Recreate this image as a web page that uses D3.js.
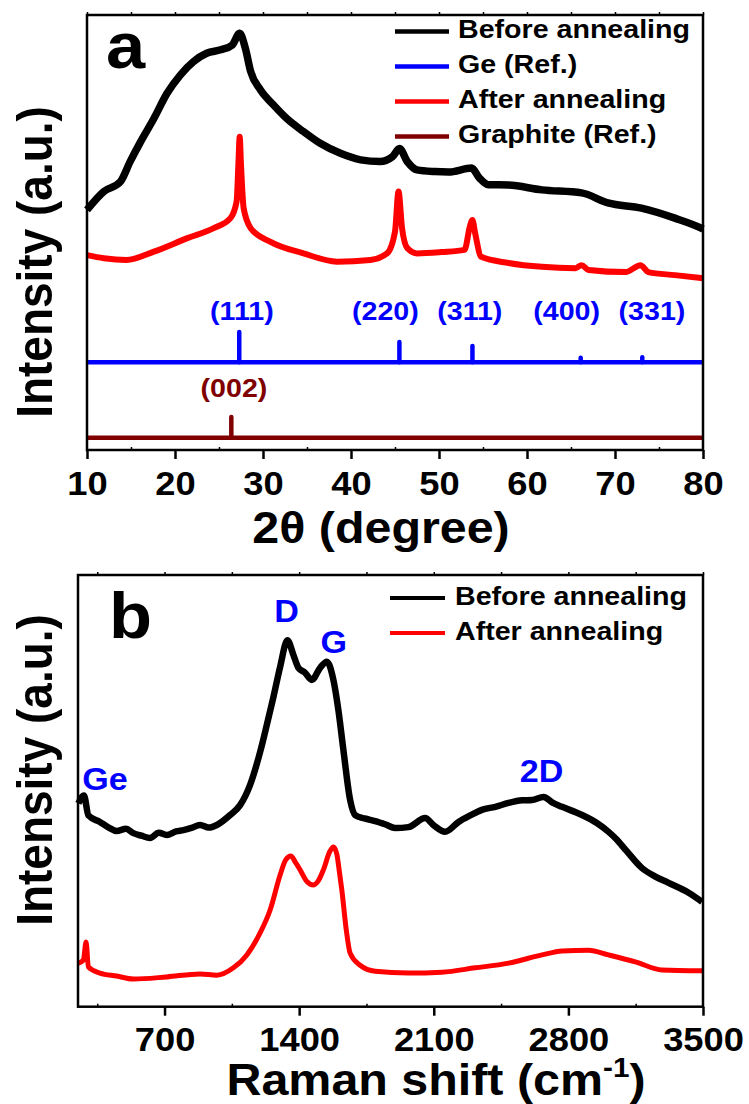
<!DOCTYPE html>
<html>
<head>
<meta charset="utf-8">
<script src="https://cdn.jsdelivr.net/npm/d3@7/dist/d3.min.js"></script>
<style>
  html, body { margin: 0; padding: 0; background: #fff; }
  svg { display: block; }
  text { font-family: "Liberation Sans", Arial, Helvetica, sans-serif; font-weight: bold; }
</style>
</head>
<body>
<svg id="chart" width="749" height="1104"></svg>
<script>
// ---------- XRD data (2θ in degrees, intensity in a.u.) ----------
const xrdBefore = [
  [10.0,55.2],[11.9,59.4],[13.8,61.7],[14.9,66.3],[16.1,70.9],[17.6,76.2],[19.1,82.0],
  [20.6,86.2],[22.1,89.3],[23.6,91.2],[25.2,92.0],[26.5,93.1],[27.35,95.8],[28.0,92.3],
  [28.6,87.0],[29.7,82.8],[31.2,79.3],[32.7,76.2],[34.6,73.2],[36.5,70.5],[38.8,68.2],
  [41.1,66.7],[43.3,66.3],[44.7,67.4],[45.5,69.3],[46.4,66.3],[47.5,64.4],[49.5,64.0],
  [51.1,63.9],[53.7,64.8],[54.6,62.5],[55.6,61.0],[57.9,60.9],[61.7,59.8],[66.2,59.1],
  [69.2,56.8],[73.0,55.6],[76.8,53.3],[79.8,51.0],[80.0,50.8]
];
const xrdAfter = [
  [10.0,44.8],[11.9,44.1],[14.5,43.7],[17.6,45.6],[21.4,48.7],[24.4,51.0],[26.3,53.3],
  [27.0,57.1],[27.2,65.5],[27.35,72.0],[27.5,65.5],[27.8,55.6],[28.6,51.0],[30.8,47.9],
  [34.6,45.2],[38.4,43.3],[42.2,43.7],[44.1,45.2],[45.0,50.2],[45.4,59.4],[45.8,51.0],
  [46.4,46.4],[47.5,45.2],[50.3,45.5],[52.9,46.0],[53.5,51.3],[53.8,52.9],[54.1,49.9],
  [54.8,44.4],[57.9,43.0],[61.7,42.1],[65.5,41.8],[66.2,42.5],[67.0,41.4],[71.2,40.9],
  [72.9,42.5],[73.8,40.9],[76.8,40.2],[80.0,39.5]
];
// Reference patterns: baseline level and stick heights
const geRefBase = 20.2;
const geRefPeaks = [27.3, 45.5, 53.8, 66.1, 73.1];
const geRefHeights = [6.9, 4.6, 3.7, 1.0, 1.1];
const geRefLabels = ["(111)", "(220)", "(311)", "(400)", "(331)"];
const geRefLabelAngles = [27.6, 43.9, 53.5, 64.5, 74.2];
const graphiteRefBase = 2.8;
const graphiteRefPeaks = [26.4];
const graphiteRefHeights = [4.8];
const graphiteRefLabels = ["(002)"];
const graphiteRefLabelAngles = [26.7];

const xrdTicks = [10, 20, 30, 40, 50, 60, 70, 80];
const xrdMinorTicks = [15, 25, 35, 45, 55, 65, 75];

// ---------- Raman data (shift in cm^-1, intensity in a.u.) ----------
const ramanBefore = [
  [252,47.1],[281,48.9],[304,44.3],[364,42.8],[410,41.5],[451,40.7],[500,41.2],[538,40.2],
  [580,39.6],[625,39.1],[670,40.3],[711,39.8],[760,40.6],[798,40.9],[840,41.4],[885,42.1],
  [930,41.5],[972,42.1],[1041,44.4],[1093,46.7],[1145,51.4],[1197,59.0],[1232,65.3],
  [1266,71.7],[1301,78.7],[1339,84.9],[1370,81.5],[1396,78.5],[1430,77.4],[1466,75.7],
  [1509,78.5],[1544,79.9],[1578,75.7],[1604,68.7],[1630,59.5],[1665,47.9],[1691,44.4],
  [1740,43.6],[1795,43.0],[1850,42.2],[1899,41.4],[1968,41.6],[2055,43.7],[2100,42.0],
  [2159,40.5],[2229,42.8],[2290,44.3],[2350,45.6],[2420,46.3],[2489,47.2],[2560,47.8],
  [2611,47.9],[2671,48.6],[2720,47.2],[2767,46.3],[2871,44.4],[2950,42.5],[3009,40.5],
  [3050,38.8],[3100,36.2],[3183,32.1],[3250,30.2],[3321,28.7],[3425,26.4],[3495,24.3]
];
const ramanAfter = [
  [252,10.1],[278,10.8],[292,15.0],[304,9.2],[364,7.8],[451,7.1],[538,6.4],[711,6.9],
  [885,7.6],[972,7.3],[1058,9.0],[1128,12.0],[1197,17.1],[1249,22.4],[1301,30.5],
  [1330,34.0],[1357,34.9],[1380,33.5],[1405,31.7],[1440,29.0],[1474,28.2],[1500,29.2],
  [1526,31.7],[1560,36.0],[1578,37.0],[1595,35.5],[1610,31.0],[1622,27.0],[1645,17.8],
  [1665,12.4],[1717,9.6],[1795,8.2],[1968,7.8],[2142,8.0],[2315,9.0],[2489,10.1],
  [2663,12.0],[2767,12.9],[2905,13.1],[3009,12.0],[3148,10.4],[3287,8.5],[3495,8.3]
];
const ramanBandLabels = ["Ge", "D", "G", "2D"];
const ramanBandShifts = [390, 1335, 1580, 2660];
const ramanBandLevels = [50.3, 89.0, 81.9, 52.0];

const ramanTicks = [700, 1400, 2100, 2800, 3500];
const ramanMinorTicks = [350, 1050, 1750, 2450, 3150];

const legendXrd = ["Before annealing", "Ge (Ref.)", "After annealing", "Graphite (Ref.)"];
const legendXrdColors = ["#000000", "#0000ff", "#ff0000", "#800000"];
const legendRaman = ["Before annealing", "After annealing"];
const legendRamanColors = ["#000000", "#ff0000"];

// ---------- drawing ----------
const svg = d3.select("#chart");
const SX = 1.1; // horizontal text stretch

function stretchedText(g, x, y, str, size, opts = {}) {
  return g.append("text")
    .attr("transform", `translate(${x},${y}) scale(${SX},1)` + (opts.rotate ? ` rotate(${opts.rotate})` : ""))
    .attr("text-anchor", opts.anchor || "start")
    .attr("font-size", size)
    .attr("fill", opts.color || "#000")
    .text(str);
}

function frame(g, x, y) {
  const [x0, x1] = x.range();
  const [y0, y1] = y.range();
  g.append("rect")
    .attr("x", x0).attr("y", y1)
    .attr("width", x1 - x0).attr("height", y0 - y1)
    .attr("fill", "none").attr("stroke", "#000").attr("stroke-width", 2.5);
}

function bottomAxis(g, x, y0, major, minor, topY, labelY) {
  const ax = g.append("g").attr("transform", `translate(0,${y0})`)
    .call(d3.axisBottom(x).tickValues(major).tickSize(9).tickFormat(d3.format("d")));
  ax.select(".domain").remove();
  ax.selectAll(".tick line").attr("stroke", "#000").attr("stroke-width", 2.5);
  ax.selectAll(".tick text")
    .attr("y", labelY).attr("dy", 0)
    .attr("font-size", 33)
    .attr("font-family", "Liberation Sans, Arial, sans-serif")
    .attr("font-weight", "bold")
    .attr("fill", "#000")
    .attr("transform", `scale(${SX},1)`);
  const mi = g.append("g").attr("transform", `translate(0,${y0})`)
    .call(d3.axisTop(x).tickValues(minor).tickSize(3).tickFormat(""));
  mi.select(".domain").remove();
  mi.selectAll(".tick line").attr("stroke", "#000").attr("stroke-width", 1.5);
  // small marks along the top edge
  const tp = g.append("g").attr("transform", `translate(0,${topY})`)
    .call(d3.axisTop(x).tickValues(major.concat(minor)).tickSize(3).tickFormat(""));
  tp.select(".domain").remove();
  tp.selectAll(".tick line").attr("stroke", "#000").attr("stroke-width", 1.5);
}

// ===== Panel a: XRD =====
const xA = d3.scaleLinear().domain([10, 80]).range([87, 703]);
const yA = d3.scaleLinear().domain([0, 100]).range([450, 15]);
const gA = svg.append("g");
const lineA = d3.line().x(d => xA(d[0])).y(d => yA(d[1])).curve(d3.curveMonotoneX);

gA.append("path").datum(xrdBefore).attr("d", lineA)
  .attr("fill", "none").attr("stroke", "#000").attr("stroke-width", 7.5)
  .attr("stroke-linejoin", "round");
gA.append("path").datum(xrdAfter).attr("d", lineA)
  .attr("fill", "none").attr("stroke", "#ff0000").attr("stroke-width", 6)
  .attr("stroke-linejoin", "round");

function refPattern(g, base, peaks, heights, labels, labelX, labelY, color) {
  g.append("line")
    .attr("x1", xA(10)).attr("x2", xA(80))
    .attr("y1", yA(base)).attr("y2", yA(base))
    .attr("stroke", color).attr("stroke-width", 4.5);
  g.selectAll(null).data(peaks).join("line")
    .attr("x1", d => xA(d)).attr("x2", d => xA(d))
    .attr("y1", yA(base))
    .attr("y2", (d, i) => yA(base + heights[i]))
    .attr("stroke", color).attr("stroke-width", 4.5)
    .attr("stroke-linecap", "round");
  labels.forEach((s, i) => stretchedText(g, xA(labelX[i]), labelY, s, 26, { anchor: "middle", color }));
}
refPattern(gA, geRefBase, geRefPeaks, geRefHeights, geRefLabels, geRefLabelAngles, 320, "#0000ff");
refPattern(gA, graphiteRefBase, graphiteRefPeaks, graphiteRefHeights, graphiteRefLabels, graphiteRefLabelAngles, 397, "#800000");

frame(gA, xA, yA);
bottomAxis(gA, xA, 450, xrdTicks, xrdMinorTicks, 15, 45);

stretchedText(gA, 106, 68, "a", 64);
stretchedText(gA, 381, 543, "2θ (degree)", 44, { anchor: "middle" });
stretchedText(gA, 52, 262, "Intensity (a.u.)", 46, { anchor: "middle", rotate: -90 });

// legend
legendXrd.forEach((s, i) => {
  const yy = 38 + i * 35;
  gA.append("line").attr("x1", 395).attr("x2", 449)
    .attr("y1", yy - 6.5).attr("y2", yy - 6.5)
    .attr("stroke", legendXrdColors[i]).attr("stroke-width", 4.5);
  stretchedText(gA, 458, yy, s, 26);
});

// ===== Panel b: Raman =====
const xB = d3.scaleLinear().domain([250, 3500]).range([78, 703]);
const yB = d3.scaleLinear().domain([0, 100]).range([1006.7, 575]);
const gB = svg.append("g");
const lineB = d3.line().x(d => xB(d[0])).y(d => yB(d[1])).curve(d3.curveMonotoneX);

gB.append("path").datum(ramanBefore).attr("d", lineB)
  .attr("fill", "none").attr("stroke", "#000").attr("stroke-width", 6.5)
  .attr("stroke-linejoin", "round");
gB.append("path").datum(ramanAfter).attr("d", lineB)
  .attr("fill", "none").attr("stroke", "#ff0000").attr("stroke-width", 5)
  .attr("stroke-linejoin", "round");

ramanBandLabels.forEach((s, i) =>
  stretchedText(gB, xB(ramanBandShifts[i]), yB(ramanBandLevels[i]), s, 31, { anchor: "middle", color: "#0000ff" }));

frame(gB, xB, yB);
bottomAxis(gB, xB, 1006.7, ramanTicks, ramanMinorTicks, 575, 44);

stretchedText(gB, 109, 638, "b", 64);
stretchedText(gB, 52, 770, "Intensity (a.u.)", 46, { anchor: "middle", rotate: -90 });

const tB = gB.append("text")
  .attr("transform", `translate(436,1095) scale(${SX},1)`)
  .attr("text-anchor", "middle").attr("font-size", 44).attr("fill", "#000");
tB.append("tspan").text("Raman shift (cm");
tB.append("tspan").attr("font-size", 27).attr("dy", -18).text("-1");
tB.append("tspan").attr("dy", 18).text(")");

legendRaman.forEach((s, i) => {
  const yy = 605 + i * 35;
  gB.append("line").attr("x1", 390).attr("x2", 445)
    .attr("y1", yy - 7).attr("y2", yy - 7)
    .attr("stroke", legendRamanColors[i]).attr("stroke-width", 4);
  stretchedText(gB, 455, yy, s, 26);
});
</script>
</body>
</html>
